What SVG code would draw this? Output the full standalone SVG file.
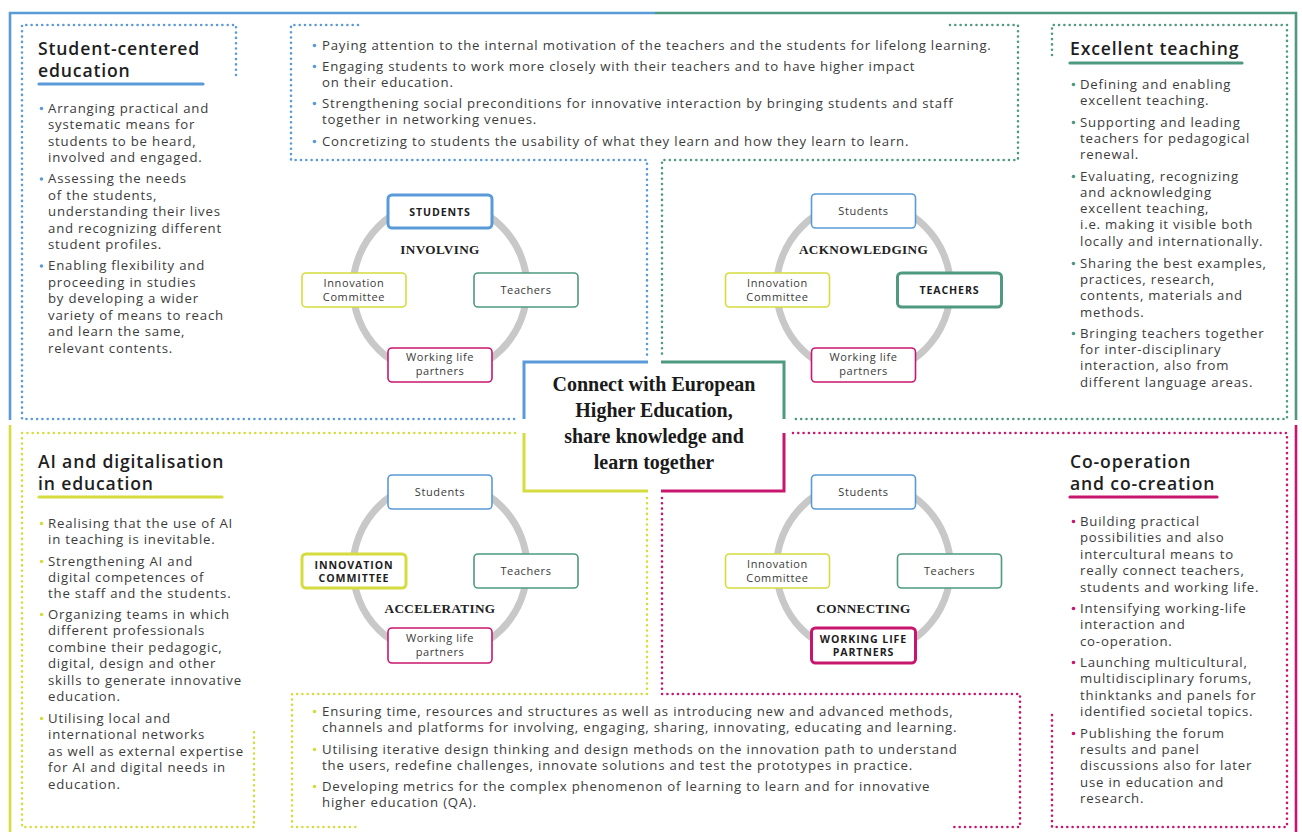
<svg xmlns="http://www.w3.org/2000/svg" width="1302" height="832" viewBox="0 0 1302 832">
<style>
.bg{fill:#ffffff}
.solid{fill:none;stroke-width:2.6;stroke-linecap:butt}
.cbox{fill:none;stroke-width:3}
.dot{fill:none;stroke-width:2.6;stroke-linecap:round;stroke-dasharray:0 5.3}
.blue{stroke:#5a9ad8}.green{stroke:#4e9a80}.yellow{stroke:#d5dc3e}.magenta{stroke:#c8166e}
.fb{fill:#5a9ad8}.fg{fill:#4e9a80}.fy{fill:#d5dc3e}.fm{fill:#c8166e}
.h{font-family:"Open Sans","Liberation Sans",sans-serif;font-size:17.6px;font-weight:600;letter-spacing:0.85px;fill:#1e1e1e}
.t{font-family:"Open Sans","Liberation Sans",sans-serif;font-size:13.2px;letter-spacing:0.8px;fill:#3c3c3c}
.ul{stroke-width:3.2;stroke-linecap:round;fill:none}
.ring{fill:none;stroke:#c8c8c8;stroke-width:7}
.nb{fill:#ffffff;stroke-width:1.6}
.nbb{fill:#ffffff;stroke-width:3}
.nt{font-family:"Open Sans","Liberation Sans",sans-serif;font-size:11px;letter-spacing:0.6px;fill:#3a3a3a;text-anchor:middle}
.ntb{font-family:"Open Sans","Liberation Sans",sans-serif;font-size:10.6px;font-weight:700;letter-spacing:0.9px;fill:#1e1e1e;text-anchor:middle}
.lab{font-family:"Liberation Serif","DejaVu Serif",serif;font-size:13.2px;font-weight:700;letter-spacing:0.35px;fill:#222;text-anchor:middle}
.title{font-family:"Liberation Serif","DejaVu Serif",serif;font-size:20px;font-weight:700;fill:#1a1a1a;text-anchor:middle}
</style>
<rect class="bg" x="0" y="0" width="1302" height="832"/>

<g id="connectors">
  <path class="solid blue" d="M10,420 V13 H655"/>
  <path class="solid green" d="M655,13 H1296 V420"/>
  <path class="solid yellow" d="M10,425 V832"/>
  <path class="solid magenta" d="M1296,425 V832"/>
  <path class="dot blue" d="M236,75 V25 H22 V419 H516"/>
  <path class="dot blue" d="M358,25 H291 V160 H647 V355"/>
  <path class="dot green" d="M950,25 H1018 V160 H662 V355"/>
  <path class="dot green" d="M1052,55 V25 H1287 V419 H793"/>
  <path class="dot yellow" d="M515,433 H22 V827 H254 V730"/>
  <path class="dot yellow" d="M647,498 V694 H292 V827 H359"/>
  <path class="dot magenta" d="M662,498 V694 H1020 V827 H953"/>
  <path class="dot magenta" d="M793,433 H1287 V827 H1052 V713"/>
</g>

<g id="center-title">
  <path class="cbox blue" d="M524,419 V362 H648"/>
  <path class="cbox green" d="M661,362 H784 V419"/>
  <path class="cbox yellow" d="M524,433 V491 H648"/>
  <path class="cbox magenta" d="M661,491 H784 V433"/>
  <text class="title" x="654" y="391">Connect with European</text>
  <text class="title" x="654" y="417">Higher Education,</text>
  <text class="title" x="654" y="443">share knowledge and</text>
  <text class="title" x="654" y="469">learn together</text>
</g>

<g id="student-centered">
  <text class="h" x="38" y="55">Student-centered</text>
  <text class="h" x="38" y="77">education</text>
  <line class="ul blue" x1="39" y1="84" x2="203" y2="84"/>
  <circle class="fb" cx="41.5" cy="108.5" r="1.8"/>
  <circle class="fb" cx="41.5" cy="179" r="1.8"/>
  <circle class="fb" cx="41.5" cy="266" r="1.8"/>
  <text class="t">
    <tspan x="48" y="112.5">Arranging practical and</tspan>
    <tspan x="48" y="129">systematic means for</tspan>
    <tspan x="48" y="145.5">students to be heard,</tspan>
    <tspan x="48" y="162">involved and engaged.</tspan>
    <tspan x="48" y="183">Assessing the needs</tspan>
    <tspan x="48" y="199.5">of the students,</tspan>
    <tspan x="48" y="216">understanding their lives</tspan>
    <tspan x="48" y="232.5">and recognizing different</tspan>
    <tspan x="48" y="249">student profiles.</tspan>
    <tspan x="48" y="270">Enabling flexibility and</tspan>
    <tspan x="48" y="286.5">proceeding in studies</tspan>
    <tspan x="48" y="303">by developing a wider</tspan>
    <tspan x="48" y="319.5">variety of means to reach</tspan>
    <tspan x="48" y="336">and learn the same,</tspan>
    <tspan x="48" y="352.5">relevant contents.</tspan>
  </text>
</g>

<g id="top-middle">
  <circle class="fb" cx="314.5" cy="45.5" r="1.8"/>
  <circle class="fb" cx="314.5" cy="66.5" r="1.8"/>
  <circle class="fb" cx="314.5" cy="103.5" r="1.8"/>
  <circle class="fb" cx="314.5" cy="141.5" r="1.8"/>
  <text class="t">
    <tspan x="322" y="49.5">Paying attention to the internal motivation of the teachers and the students for lifelong learning.</tspan>
    <tspan x="322" y="70.5">Engaging students to work more closely with their teachers and to have higher impact</tspan>
    <tspan x="322" y="86.5">on their education.</tspan>
    <tspan x="322" y="107.5">Strengthening social preconditions for innovative interaction by bringing students and staff</tspan>
    <tspan x="322" y="123.5">together in networking venues.</tspan>
    <tspan x="322" y="145.5">Concretizing to students the usability of what they learn and how they learn to learn.</tspan>
  </text>
</g>

<g id="excellent-teaching">
  <text class="h" x="1070" y="55">Excellent teaching</text>
  <line class="ul green" x1="1070" y1="63" x2="1242" y2="63"/>
  <circle class="fg" cx="1073.5" cy="84.5" r="1.8"/>
  <circle class="fg" cx="1073.5" cy="122.5" r="1.8"/>
  <circle class="fg" cx="1073.5" cy="176.5" r="1.8"/>
  <circle class="fg" cx="1073.5" cy="263.5" r="1.8"/>
  <circle class="fg" cx="1073.5" cy="333.5" r="1.8"/>
  <text class="t">
    <tspan x="1080" y="88.5">Defining and enabling</tspan>
    <tspan x="1080" y="104.5">excellent teaching.</tspan>
    <tspan x="1080" y="126.5">Supporting and leading</tspan>
    <tspan x="1080" y="142.5">teachers for pedagogical</tspan>
    <tspan x="1080" y="158.5">renewal.</tspan>
    <tspan x="1080" y="180.5">Evaluating, recognizing</tspan>
    <tspan x="1080" y="196.5">and acknowledging</tspan>
    <tspan x="1080" y="212.5">excellent teaching,</tspan>
    <tspan x="1080" y="229">i.e. making it visible both</tspan>
    <tspan x="1080" y="245.5">locally and internationally.</tspan>
    <tspan x="1080" y="267.5">Sharing the best examples,</tspan>
    <tspan x="1080" y="283.5">practices, research,</tspan>
    <tspan x="1080" y="300">contents, materials and</tspan>
    <tspan x="1080" y="316.5">methods.</tspan>
    <tspan x="1080" y="337.5">Bringing teachers together</tspan>
    <tspan x="1080" y="353.5">for inter-disciplinary</tspan>
    <tspan x="1080" y="370">interaction, also from</tspan>
    <tspan x="1080" y="386.5">different language areas.</tspan>
  </text>
</g>

<g id="ai-digitalisation">
  <text class="h" x="38" y="467.5">AI and digitalisation</text>
  <text class="h" x="38" y="489.5">in education</text>
  <line class="ul yellow" x1="39" y1="497" x2="222" y2="497"/>
  <circle class="fy" cx="41.5" cy="523.5" r="1.8"/>
  <circle class="fy" cx="41.5" cy="561.5" r="1.8"/>
  <circle class="fy" cx="41.5" cy="614.5" r="1.8"/>
  <circle class="fy" cx="41.5" cy="718.5" r="1.8"/>
  <text class="t">
    <tspan x="48" y="527.5">Realising that the use of AI</tspan>
    <tspan x="48" y="543.5">in teaching is inevitable.</tspan>
    <tspan x="48" y="565.5">Strengthening AI and</tspan>
    <tspan x="48" y="581.5">digital competences of</tspan>
    <tspan x="48" y="597.5">the staff and the students.</tspan>
    <tspan x="48" y="618.5">Organizing teams in which</tspan>
    <tspan x="48" y="635">different professionals</tspan>
    <tspan x="48" y="651.5">combine their pedagogic,</tspan>
    <tspan x="48" y="668">digital, design and other</tspan>
    <tspan x="48" y="684.5">skills to generate innovative</tspan>
    <tspan x="48" y="701">education.</tspan>
    <tspan x="48" y="722.5">Utilising local and</tspan>
    <tspan x="48" y="739">international networks</tspan>
    <tspan x="48" y="755.5">as well as external expertise</tspan>
    <tspan x="48" y="772">for AI and digital needs in</tspan>
    <tspan x="48" y="788.5">education.</tspan>
  </text>
</g>

<g id="bottom-middle">
  <circle class="fy" cx="314.5" cy="711.5" r="1.8"/>
  <circle class="fy" cx="314.5" cy="749.5" r="1.8"/>
  <circle class="fy" cx="314.5" cy="786.5" r="1.8"/>
  <text class="t">
    <tspan x="322" y="715.5">Ensuring time, resources and structures as well as introducing new and advanced methods,</tspan>
    <tspan x="322" y="731.5">channels and platforms for involving, engaging, sharing, innovating, educating and learning.</tspan>
    <tspan x="322" y="753.5">Utilising iterative design thinking and design methods on the innovation path to understand</tspan>
    <tspan x="322" y="769.5">the users, redefine challenges, innovate solutions and test the prototypes in practice.</tspan>
    <tspan x="322" y="790.5">Developing metrics for the complex phenomenon of learning to learn and for innovative</tspan>
    <tspan x="322" y="806.5">higher education (QA).</tspan>
  </text>
</g>

<g id="co-operation">
  <text class="h" x="1070" y="467.5">Co-operation</text>
  <text class="h" x="1070" y="489.5">and co-creation</text>
  <line class="ul magenta" x1="1070" y1="497" x2="1217" y2="497"/>
  <circle class="fm" cx="1073.5" cy="521.5" r="1.8"/>
  <circle class="fm" cx="1073.5" cy="608.5" r="1.8"/>
  <circle class="fm" cx="1073.5" cy="662.5" r="1.8"/>
  <circle class="fm" cx="1073.5" cy="733.5" r="1.8"/>
  <text class="t">
    <tspan x="1080" y="525.5">Building practical</tspan>
    <tspan x="1080" y="542">possibilities and also</tspan>
    <tspan x="1080" y="558.5">intercultural means to</tspan>
    <tspan x="1080" y="575">really connect teachers,</tspan>
    <tspan x="1080" y="591.5">students and working life.</tspan>
    <tspan x="1080" y="612.5">Intensifying working-life</tspan>
    <tspan x="1080" y="629">interaction and</tspan>
    <tspan x="1080" y="645.5">co-operation.</tspan>
    <tspan x="1080" y="666.5">Launching multicultural,</tspan>
    <tspan x="1080" y="683">multidisciplinary forums,</tspan>
    <tspan x="1080" y="699.5">thinktanks and panels for</tspan>
    <tspan x="1080" y="716">identified societal topics.</tspan>
    <tspan x="1080" y="737.5">Publishing the forum</tspan>
    <tspan x="1080" y="753.5">results and panel</tspan>
    <tspan x="1080" y="770">discussions also for later</tspan>
    <tspan x="1080" y="786.5">use in education and</tspan>
    <tspan x="1080" y="802.5">research.</tspan>
  </text>
</g>

<g id="cycle-involving" transform="translate(440,288)">
  <circle class="ring" cx="0" cy="0" r="87"/>
  <text class="lab" x="0" y="-34">INVOLVING</text>
  <g id="c1-students"><rect class="nbb blue" x="-52" y="-93" width="104" height="33" rx="4"/><text class="ntb" x="0" y="-72.5">STUDENTS</text></g>
  <g id="c1-teachers"><rect class="nb green" x="34" y="-15" width="104" height="34" rx="4"/><text class="nt" x="86" y="6">Teachers</text></g>
  <g id="c1-innovation"><rect class="nb yellow" x="-138" y="-15" width="104" height="34" rx="4"/><text class="nt" x="-86" y="-1.5">Innovation</text><text class="nt" x="-86" y="12.5">Committee</text></g>
  <g id="c1-working"><rect class="nb magenta" x="-52" y="60" width="104" height="34" rx="4"/><text class="nt" x="0" y="73">Working life</text><text class="nt" x="0" y="87">partners</text></g>
</g>

<g id="cycle-acknowledging" transform="translate(863.5,288)">
  <circle class="ring" cx="0" cy="0" r="87"/>
  <text class="lab" x="0" y="-34">ACKNOWLEDGING</text>
  <g id="c2-students"><rect class="nb blue" x="-52" y="-94" width="104" height="34" rx="4"/><text class="nt" x="0" y="-73">Students</text></g>
  <g id="c2-teachers"><rect class="nbb green" x="34" y="-15" width="104" height="34" rx="4"/><text class="ntb" x="86" y="6">TEACHERS</text></g>
  <g id="c2-innovation"><rect class="nb yellow" x="-138" y="-15" width="104" height="34" rx="4"/><text class="nt" x="-86" y="-1.5">Innovation</text><text class="nt" x="-86" y="12.5">Committee</text></g>
  <g id="c2-working"><rect class="nb magenta" x="-52" y="60" width="104" height="34" rx="4"/><text class="nt" x="0" y="73">Working life</text><text class="nt" x="0" y="87">partners</text></g>
</g>

<g id="cycle-accelerating" transform="translate(440,568)">
  <circle class="ring" cx="0" cy="0" r="87"/>
  <text class="lab" x="0" y="45">ACCELERATING</text>
  <g id="c3-students"><rect class="nb blue" x="-52" y="-93" width="104" height="34" rx="4"/><text class="nt" x="0" y="-72">Students</text></g>
  <g id="c3-teachers"><rect class="nb green" x="34" y="-14" width="104" height="34" rx="4"/><text class="nt" x="86" y="7">Teachers</text></g>
  <g id="c3-innovation"><rect class="nbb yellow" x="-138" y="-14" width="104" height="34" rx="4"/><text class="ntb" x="-86" y="0.5">INNOVATION</text><text class="ntb" x="-86" y="13.5">COMMITTEE</text></g>
  <g id="c3-working"><rect class="nb magenta" x="-52" y="60" width="104" height="35" rx="4"/><text class="nt" x="0" y="73.5">Working life</text><text class="nt" x="0" y="87.5">partners</text></g>
</g>

<g id="cycle-connecting" transform="translate(863.5,568)">
  <circle class="ring" cx="0" cy="0" r="87"/>
  <text class="lab" x="0" y="45">CONNECTING</text>
  <g id="c4-students"><rect class="nb blue" x="-52" y="-93" width="104" height="34" rx="4"/><text class="nt" x="0" y="-72">Students</text></g>
  <g id="c4-teachers"><rect class="nb green" x="34" y="-14" width="104" height="34" rx="4"/><text class="nt" x="86" y="7">Teachers</text></g>
  <g id="c4-innovation"><rect class="nb yellow" x="-138" y="-14" width="104" height="34" rx="4"/><text class="nt" x="-86" y="-0.5">Innovation</text><text class="nt" x="-86" y="13.5">Committee</text></g>
  <g id="c4-working"><rect class="nbb magenta" x="-52" y="60" width="104" height="35" rx="4"/><text class="ntb" x="0" y="74.5">WORKING LIFE</text><text class="ntb" x="0" y="88">PARTNERS</text></g>
</g>
</svg>
